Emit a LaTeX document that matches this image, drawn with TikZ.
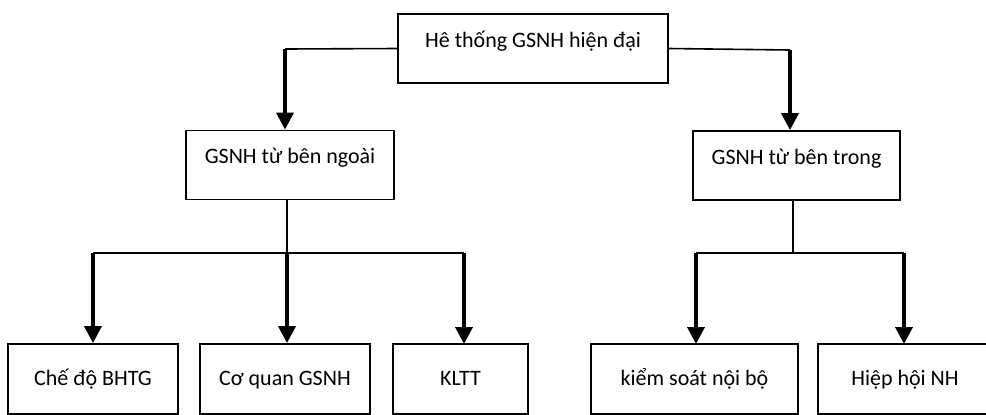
\documentclass[tikz,border=0pt]{standalone}
\usepackage{fontspec}
\setmainfont{Carlito}
\usepackage{xcolor}
\usepackage{tikz}
\usetikzlibrary{arrows.meta}

\begin{document}
\begin{tikzpicture}[
    x=0.5pt, y=-0.5pt,
    box/.style={rectangle, draw=black, line width=0.9pt, inner sep=0pt, font=\fontsize{11}{13}\selectfont, text height=16.5pt, text depth=18pt},
    leaf/.style={box, text height=20.75pt, text depth=14.25pt},
    link/.style={draw=black, line width=0.8pt},
    pointer/.style={draw=black, line width=1.8pt, -{Triangle[width=8.5pt, length=8.5pt]}}
]
    \useasboundingbox (0,0) rectangle (986,414);
    \clip (0,0) rectangle (986,414);

    % Top
    \node[box, minimum width=135pt] (sys) at (533, 48.5) {Hê thống GSNH hiện đại};

    % Second level
    \node[box, minimum width=104pt] (ext) at (290, 165) {GSNH từ bên ngoài};
    \node[box, minimum width=103.5pt] (int) at (796.5, 165.5) {GSNH từ bên trong};

    % Leaves
    \node[leaf, minimum width=85pt] (bhtg) at (93, 379) {Chế độ BHTG};
    \node[leaf, minimum width=85pt] (cq) at (285, 379) {Cơ quan GSNH};
    \node[leaf, minimum width=67.5pt] (kltt) at (460.5, 379) {KLTT};
    \node[leaf, minimum width=103.5pt] (ksnb) at (694.5, 379) {kiểm soát nội bộ};
    \node[leaf, minimum width=87pt] (hh) at (905, 379) {Hiệp hội NH};

    % Top to second level
    \coordinate (cl) at (285, 49);
    \coordinate (cr) at (790, 50);
    \draw[link] (sys.west) -- (cl);
    \draw[pointer] (cl) -- (cl |- ext.north);
    \draw[link] (sys.east) -- (cr);
    \draw[pointer] (cr) -- (cr |- int.north);

    % Outside branch
    \coordinate (hl) at (287, 253);
    \draw[link] (hl |- ext.south) -- (hl);
    \draw[link] (bhtg.north |- hl) -- (464, 253);
    \draw[pointer] (bhtg.north |- hl) -- (bhtg.north);
    \draw[pointer] (hl) -- (hl |- cq.north);
    \draw[pointer] (464, 253) -- (464, 344);

    % Inside branch
    \coordinate (hr) at (793, 253);
    \draw[link] (hr |- int.south) -- (hr);
    \draw[link] (696, 253) -- (904, 253);
    \draw[pointer] (696, 253) -- (696, 344);
    \draw[pointer] (904, 253) -- (904, 344);

\end{tikzpicture}
\end{document}
